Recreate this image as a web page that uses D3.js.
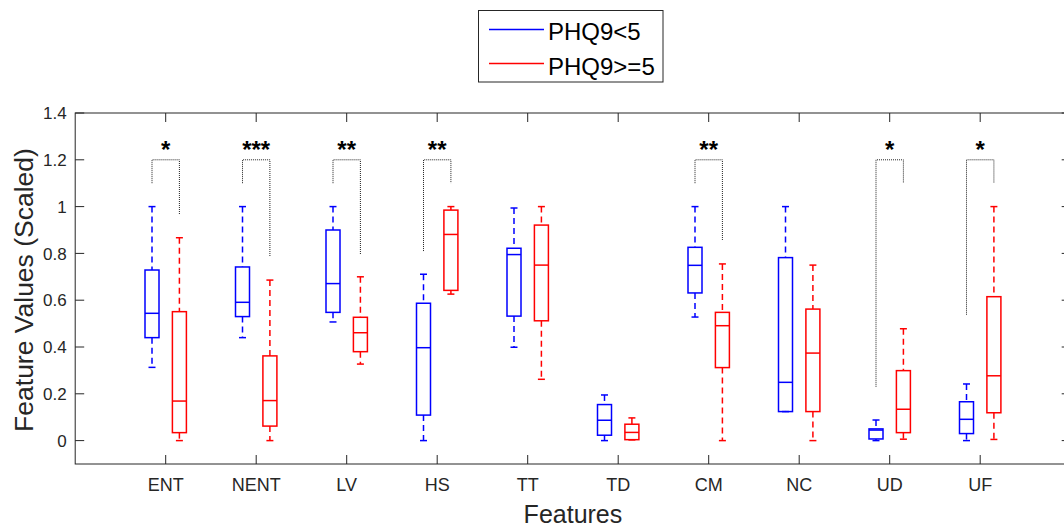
<!DOCTYPE html>
<meta charset="utf-8">
<style>
    body {
        margin: 0;
        background-color: white;
        font-family: "Liberation Sans", Arial, Helvetica, sans-serif;
    }

    text {
        fill: #262626;
    }
</style>

<body>
    <svg id="chart" width="1064" height="527"></svg>
</body>

<script src="https://d3js.org/d3.v7.min.js"></script>
<script>
    // Features on the x axis
    var categories = ['ENT', 'NENT', 'LV', 'HS', 'TT', 'TD', 'CM', 'NC', 'UD', 'UF'];
    var yTicks = [0, 0.2, 0.4, 0.6, 0.8, 1, 1.2, 1.4];
    var groupNames = ['PHQ9<5', 'PHQ9>=5'];

    // PHQ9<5 (blue) box stats
    var lowA = [0.313, 0.44, 0.507, 0, 0.399, 0, 0.528, 0.124, 0, 0];
    var q1A = [0.44, 0.53, 0.548, 0.109, 0.532, 0.023, 0.631, 0.124, 0.007, 0.03];
    var medA = [0.544, 0.591, 0.671, 0.397, 0.795, 0.087, 0.749, 0.249, 0.045, 0.091];
    var q3A = [0.729, 0.742, 0.9, 0.587, 0.822, 0.154, 0.826, 0.782, 0.05, 0.166];
    var highA = [1.0, 1.0, 1.0, 0.711, 0.994, 0.195, 1.0, 1.0, 0.088, 0.242];

    // PHQ9>=5 (red) box stats
    var lowB = [0, 0, 0.327, 0.626, 0.262, 0.003, 0, 0, 0.006, 0.005];
    var q1B = [0.034, 0.062, 0.38, 0.642, 0.512, 0.004, 0.312, 0.124, 0.034, 0.119];
    var medB = [0.169, 0.171, 0.461, 0.881, 0.75, 0.035, 0.491, 0.374, 0.134, 0.277];
    var q3B = [0.551, 0.362, 0.527, 0.985, 0.921, 0.07, 0.548, 0.562, 0.299, 0.615];
    var highB = [0.867, 0.686, 0.7, 1.0, 1.0, 0.097, 0.755, 0.75, 0.478, 1.0];

    // significance brackets
    var stars = ['*', '***', '**', '**', '', '', '**', '', '*', '*'];
    var bracketTop = 1.2;
    var legLeft = [1.1, 1.1, 1.1, 0.81, null, null, 1.1, null, 0.23, 0.538];
    var legRight = [0.964, 0.786, 0.796, 1.1, null, null, 0.854, null, 1.1, 1.1];

    var svg = d3.select("#chart"),
        axL = 75.2, axR = 1070.7, axT = 113, axB = 464,
        offset = 13.7, // half distance between paired boxes
        boxW = 14,
        capW = 7,
        axisColor = "#262626";

    var x = d3.scaleLinear().domain([0, categories.length + 1]).range([axL, axR]),
        y = d3.scaleLinear().domain([-0.1, 1.4]).range([axB, axT]);

    var groups = [
        {name: groupNames[0], color: "#0000ff", dx: -offset, low: lowA, q1: q1A, med: medA, q3: q3A, high: highA},
        {name: groupNames[1], color: "#ff0000", dx: offset, low: lowB, q1: q1B, med: medB, q3: q3B, high: highB}
    ];

    // axes frame
    var frame = svg.append("g");
    frame.append("rect")
        .attr("x", axL).attr("y", axT)
        .attr("width", axR - axL).attr("height", axB - axT)
        .attr("fill", "none").attr("stroke", axisColor).attr("stroke-width", 1);

    // y ticks, left and right, pointing inward
    yTicks.forEach(function (t) {
        frame.append("line").attr("x1", axL).attr("x2", axL + 9)
            .attr("y1", y(t)).attr("y2", y(t)).attr("stroke", axisColor);
        frame.append("line").attr("x1", axR).attr("x2", axR - 9)
            .attr("y1", y(t)).attr("y2", y(t)).attr("stroke", axisColor);
        frame.append("text")
            .attr("x", axL - 8.5).attr("y", y(t)).attr("dy", "0.36em")
            .attr("text-anchor", "end")
            .style("font-size", "17px")
            .text(d3.format("~g")(t));
    });

    // x ticks, bottom and top
    categories.forEach(function (c, i) {
        var cx = x(i + 1);
        frame.append("line").attr("x1", cx).attr("x2", cx)
            .attr("y1", axB).attr("y2", axB - 9).attr("stroke", axisColor);
        frame.append("line").attr("x1", cx).attr("x2", cx)
            .attr("y1", axT).attr("y2", axT + 9).attr("stroke", axisColor);
        frame.append("text")
            .attr("x", cx).attr("y", 490.5)
            .attr("text-anchor", "middle")
            .style("font-size", "18px")
            .text(c);
    });

    // axis titles
    svg.append("text")
        .attr("x", (axL + axR) / 2).attr("y", 523)
        .attr("text-anchor", "middle")
        .style("font-size", "25px")
        .text("Features");
    svg.append("text")
        .attr("transform", "translate(33," + ((axT + axB) / 2 + 1.5) + ")rotate(-90)")
        .attr("text-anchor", "middle")
        .style("font-size", "26.5px")
        .text("Feature Values (Scaled)");

    // boxes
    groups.forEach(function (g) {
        var gBox = svg.append("g").attr("stroke", g.color).attr("fill", "none").attr("stroke-width", 1.5);
        categories.forEach(function (c, i) {
            var cx = x(i + 1) + g.dx;
            // whiskers (dashed)
            gBox.append("line").attr("x1", cx).attr("x2", cx)
                .attr("y1", y(g.high[i])).attr("y2", y(g.q3[i]))
                .attr("stroke-dasharray", "6,4");
            gBox.append("line").attr("x1", cx).attr("x2", cx)
                .attr("y1", y(g.q1[i])).attr("y2", y(g.low[i]))
                .attr("stroke-dasharray", "6,4");
            // caps
            [g.high[i], g.low[i]].forEach(function (v) {
                gBox.append("line").attr("x1", cx - capW / 2).attr("x2", cx + capW / 2)
                    .attr("y1", y(v)).attr("y2", y(v));
            });
            // box
            gBox.append("rect")
                .attr("x", cx - boxW / 2).attr("y", y(g.q3[i]))
                .attr("width", boxW).attr("height", y(g.q1[i]) - y(g.q3[i]));
            // median
            gBox.append("line").attr("x1", cx - boxW / 2).attr("x2", cx + boxW / 2)
                .attr("y1", y(g.med[i])).attr("y2", y(g.med[i]));
        });
    });

    // significance brackets and stars
    var sig = svg.append("g");
    categories.forEach(function (c, i) {
        if (!stars[i]) return;
        var xl = x(i + 1) - offset, xr = x(i + 1) + offset;
        sig.append("path")
            .attr("d", d3.line()([[xl, y(legLeft[i])], [xl, y(bracketTop)], [xr, y(bracketTop)], [xr, y(legRight[i])]]))
            .attr("fill", "none").attr("stroke", "#222").attr("stroke-width", 1)
            .attr("stroke-dasharray", "1,1");
        sig.append("text")
            .attr("x", x(i + 1)).attr("y", y(bracketTop) - 2)
            .attr("text-anchor", "middle")
            .style("font-size", "24px").style("font-weight", "bold").style("fill", "#000")
            .text(stars[i]);
    });

    // legend
    var legend = svg.append("g");
    legend.append("rect")
        .attr("x", 478.5).attr("y", 10.5).attr("width", 184.5).attr("height", 71.5)
        .attr("fill", "white").attr("stroke", axisColor).attr("stroke-width", 1);
    groups.forEach(function (g, k) {
        var ly = 29.5 + k * 34;
        legend.append("line").attr("x1", 489).attr("x2", 544)
            .attr("y1", ly).attr("y2", ly)
            .style("stroke", g.color).style("stroke-width", 1.5);
        legend.append("text")
            .attr("x", 548).attr("y", 40 + k * 34.5)
            .style("font-size", "24px").style("fill", "#000")
            .text(g.name);
    });
</script>
